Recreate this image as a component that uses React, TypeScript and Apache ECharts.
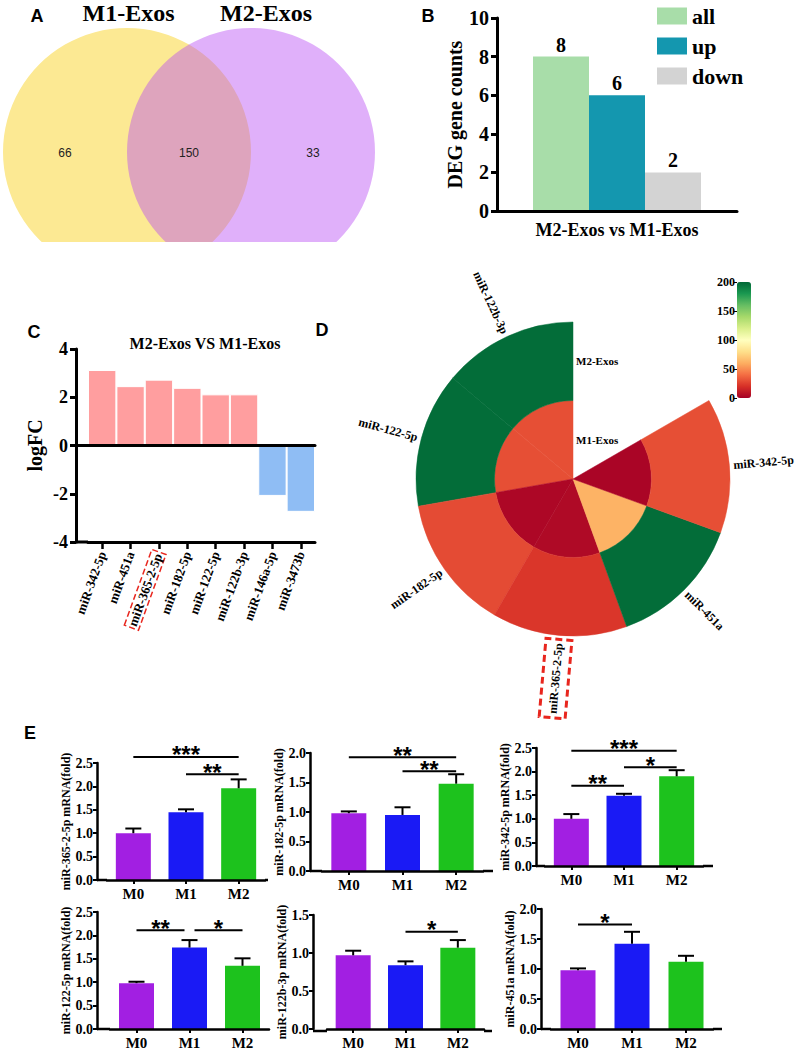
import React, { useEffect, useRef } from "react";
import * as echarts from "echarts";

const SERIF = "'Liberation Serif', 'Times New Roman', serif";
const SANS = "'Liberation Sans', Arial, sans-serif";

// ---------- Panel A : Venn ----------
const vennSets = ["M1-Exos", "M2-Exos"];
const vennCounts = [66, 150, 33]; // M1 only, shared, M2 only

// ---------- Panel B : DEG counts ----------
const degComparison = ["M2-Exos vs M1-Exos"];
const degNames = ["all", "up", "down"];
const degCounts = [8, 6, 2];

// ---------- Panel C : logFC ----------
const fcMirnas = ["miR-342-5p", "miR-451a", "miR-365-2-5p", "miR-182-5p", "miR-122-5p", "miR-122b-3p", "miR-146a-5p", "miR-3473b"];
const fcValues = [3.13, 2.46, 2.73, 2.39, 2.12, 2.12, -2.09, -2.75];
const fcHighlight = "miR-365-2-5p";

// ---------- Panel D : circular heatmap ----------
const ringMirnas = ["miR-122b-3p", "miR-122-5p", "miR-182-5p", "miR-365-2-5p", "miR-451a", "miR-342-5p"];
const ringGroups = ["M1-Exos", "M2-Exos"];
const m1Expression = [30, 30, 3, 4, 62, 2];
const m2Expression = [198, 198, 29, 22, 198, 30];
const exprRange = [0, 200];

// ---------- Panel E : qPCR ----------
const qpcrGroups = ["M0", "M1", "M2"];
const qpcrGenes = ["miR-365-2-5p", "miR-182-5p", "miR-342-5p", "miR-122-5p", "miR-122b-3p", "miR-451a"];
const qpcrMeans = [
  [1.0, 1.45, 1.96],
  [0.98, 0.95, 1.48],
  [1.0, 1.49, 1.9],
  [0.98, 1.74, 1.35],
  [0.97, 0.84, 1.07],
  [0.98, 1.42, 1.12],
];
const qpcrSems = [
  [0.1, 0.06, 0.19],
  [0.03, 0.13, 0.16],
  [0.1, 0.04, 0.13],
  [0.03, 0.16, 0.16],
  [0.06, 0.05, 0.1],
  [0.03, 0.2, 0.1],
];
const qpcrAxisMax = [2.5, 2.0, 2.5, 2.5, 1.5, 2.0];
// [from group, to group, height (fold), stars]
const qpcrBrackets: [number, number, number, string][][] = [
  [[0, 2, 2.63, "***"], [1, 2, 2.26, "**"]],
  [[0, 2, 1.93, "**"], [1, 2, 1.69, "**"]],
  [[0, 2, 2.44, "***"], [1, 2, 2.09, "*"], [0, 1, 1.7, "**"]],
  [[0, 1, 2.11, "**"], [1, 2, 2.11, "*"]],
  [[1, 2, 1.28, "*"]],
  [[0, 1, 1.74, "*"]],
];

// ---------- styles / layout ----------
const DEG_COLORS = ["#A8DDA9", "#1497AF", "#D3D3D3"];
const FC_UP = "#FF9E9F";
const FC_DOWN = "#8FBDF4";
const GROUP_COLORS = ["#A21FE2", "#1A1AF5", "#1DC21D"];
const RDYLGN = ["#a50026", "#d73027", "#f46d43", "#fdae61", "#fee08b", "#ffffbf", "#d9ef8b", "#a6d96a", "#66bd63", "#1a9850", "#006837"];
const RED = "#E8261E";

const E_LAYOUT = [
  { axisX: 97, left: 107, width: 158, top: 763, height: 117, end: 268 },
  { axisX: 310, left: 322, width: 161, top: 753, height: 118, end: 493 },
  { axisX: 536, left: 545, width: 158, top: 748, height: 118, end: 713 },
  { axisX: 97, left: 110, width: 159, top: 912, height: 117, end: 269 },
  { axisX: 313, left: 327, width: 157, top: 915, height: 116, end: 492 },
  { axisX: 541, left: 551, width: 162, top: 909, height: 120, end: 722 },
];

function txt(text: string, x: number, y: number, size: number, o: any = {}) {
  const align = o.align || "center";
  return {
    type: "text",
    x,
    y,
    silent: true,
    rotation: o.rotation || 0,
    style: {
      text,
      fontSize: size,
      fontFamily: o.family || SERIF,
      fontWeight: o.weight || "bold",
      fill: o.fill || "#000",
      align,
      textAlign: align,
      verticalAlign: "middle",
      textVerticalAlign: "middle",
    },
  };
}

function hline(x1: number, x2: number, y: number, w: number) {
  return { type: "line", silent: true, shape: { x1, y1: y, x2, y2: y }, style: { stroke: "#000", lineWidth: w } };
}

function buildOption() {
  const grids: any[] = [];
  const xAxes: any[] = [];
  const yAxes: any[] = [];
  const series: any[] = [];
  const graphics: any[] = [];

  // ===== Panel A =====
  const vennR = 124;
  const vennCy = 152;
  const vennCx = [127, 251];
  graphics.push({ type: "circle", silent: true, shape: { cx: vennCx[0], cy: vennCy, r: vennR }, style: { fill: "#FCE993" } });
  graphics.push({ type: "circle", silent: true, shape: { cx: vennCx[1], cy: vennCy, r: vennR }, style: { fill: "rgba(185,75,244,0.44)" } });
  // the panel is cropped just below the circles' lower part
  graphics.push({ type: "rect", silent: true, shape: { x: 0, y: 242, width: 390, height: 50 }, style: { fill: "#fff" } });
  const countX = [
    (vennCx[0] - vennR + vennCx[1] - vennR) / 2,
    (vennCx[0] + vennCx[1]) / 2,
    (vennCx[0] + vennR + vennCx[1] + vennR) / 2,
  ];
  vennCounts.forEach((c, i) => graphics.push(txt(String(c), countX[i], vennCy + 1, 12, { family: SANS, weight: "normal", fill: "#222" })));
  const vennTitleX = [128.5, 266];
  vennSets.forEach((s, i) => graphics.push(txt(s, vennTitleX[i], 13, 24)));

  // panel letters
  const letters: [string, number, number][] = [["A", 37, 16], ["B", 428, 16], ["C", 34, 332], ["D", 322, 330], ["E", 30, 733]];
  letters.forEach(([l, x, y]) => graphics.push(txt(l, x, y, 18, { family: SANS })));

  // ===== Panel B =====
  grids.push({ left: 497, top: 18, width: 240, height: 193 });
  xAxes.push({
    gridIndex: 0,
    type: "category",
    data: degComparison,
    z: 5,
    axisLine: { lineStyle: { color: "#000", width: 3 } },
    axisTick: { show: false },
    axisLabel: { fontFamily: SERIF, fontWeight: "bold", fontSize: 18, color: "#000", margin: 10 },
  });
  yAxes.push({
    gridIndex: 0,
    type: "value",
    min: 0,
    max: 10,
    interval: 2,
    z: 5,
    axisLine: { show: true, lineStyle: { color: "#000", width: 3 } },
    axisTick: { show: true, length: 6, lineStyle: { color: "#000", width: 3 } },
    axisLabel: { fontFamily: SERIF, fontWeight: "bold", fontSize: 20, color: "#000", margin: 8 },
    splitLine: { show: false },
    name: "DEG gene counts",
    nameLocation: "middle",
    nameGap: 32,
    nameTextStyle: { fontFamily: SERIF, fontWeight: "bold", fontSize: 20, color: "#000" },
  });
  degNames.forEach((n, i) =>
    series.push({
      type: "bar",
      name: n,
      xAxisIndex: 0,
      yAxisIndex: 0,
      data: [degCounts[i]],
      barWidth: 56,
      barGap: "0%",
      itemStyle: { color: DEG_COLORS[i] },
      label: { show: true, position: "top", distance: 2, fontFamily: SERIF, fontWeight: "bold", fontSize: 20, color: "#000" },
    })
  );

  // ===== Panel C =====
  const cGrid = { left: 88, top: 349, width: 227, height: 193 };
  const cAxisX = 76;
  grids.push(cGrid);
  xAxes.push({
    gridIndex: 1,
    type: "category",
    data: fcMirnas,
    position: "bottom",
    z: 5,
    axisLine: { onZero: false, lineStyle: { color: "#000", width: 3 } },
    axisTick: { show: true, alignWithLabel: true, length: 7, lineStyle: { color: "#000", width: 2.5 } },
    axisLabel: {
      rotate: 70,
      margin: 10,
      fontFamily: SERIF,
      fontWeight: "bold",
      fontSize: 13,
      color: "#000",
      formatter: (v: string) => (v === fcHighlight ? `{box|${v}}` : v),
      rich: {
        box: {
          fontFamily: SERIF,
          fontWeight: "bold",
          fontSize: 13,
          color: "#000",
          borderColor: RED,
          borderWidth: 1.5,
          borderType: "dashed",
          padding: [1, 2],
        },
      },
    },
  });
  xAxes.push({
    gridIndex: 1,
    type: "category",
    data: fcMirnas,
    position: "top",
    z: 5,
    axisLine: { onZero: true, lineStyle: { color: "#000", width: 3 } },
    axisTick: { show: false },
    axisLabel: { show: false },
  });
  yAxes.push({
    gridIndex: 1,
    type: "value",
    min: -4,
    max: 4,
    interval: 2,
    offset: cGrid.left - cAxisX,
    z: 5,
    axisLine: { show: true, onZero: false, lineStyle: { color: "#000", width: 3 } },
    axisTick: { show: true, length: 6, lineStyle: { color: "#000", width: 3 } },
    axisLabel: { fontFamily: SERIF, fontWeight: "bold", fontSize: 18, color: "#000", margin: 8 },
    splitLine: { show: false },
    name: "logFC",
    nameLocation: "middle",
    nameGap: 31,
    nameTextStyle: { fontFamily: SERIF, fontWeight: "bold", fontSize: 20, color: "#000" },
  });
  series.push({
    type: "bar",
    name: "logFC",
    xAxisIndex: 1,
    yAxisIndex: 1,
    data: fcValues,
    barCategoryGap: "0%",
    itemStyle: {
      color: (p: any) => (p.value >= 0 ? FC_UP : FC_DOWN),
      borderColor: "#fff",
      borderWidth: 1,
    },
  });
  const cZeroY = cGrid.top + cGrid.height / 2;
  graphics.push(hline(cAxisX, cGrid.left, cZeroY, 3));
  graphics.push(hline(cAxisX, cGrid.left, cGrid.top + cGrid.height, 3));
  graphics.push(txt("M2-Exos VS M1-Exos", 205, 343, 16));

  // ===== Panel D =====
  const SPAN = 50;
  const ringData: number[][] = [];
  ringMirnas.forEach((_, si) => {
    ringData.push([si, 0, m1Expression[si]]);
    ringData.push([si, 1, m2Expression[si]]);
  });
  const dSeriesIndex = series.length;
  series.push({
    type: "custom",
    name: "expression",
    coordinateSystem: "polar",
    polarIndex: 0,
    data: ringData,
    encode: { angle: 0, radius: 1 },
    renderItem: (params: any, api: any) => {
      const si = api.value(0);
      const ri = api.value(1);
      const cs = params.coordSys;
      const cx = cs.cx;
      const cy = cs.cy;
      const pA = api.coord([ri + 1, si * SPAN]);
      const pB = api.coord([ri + 1, (si + 1) * SPAN]);
      const pIn = api.coord([ri, si * SPAN]);
      const r = Math.hypot(pA[0] - cx, pA[1] - cy);
      const r0 = Math.hypot(pIn[0] - cx, pIn[1] - cy);
      const a0 = Math.atan2(pA[1] - cy, pA[0] - cx);
      let a1 = Math.atan2(pB[1] - cy, pB[0] - cx);
      if (a1 > a0) a1 -= Math.PI * 2;
      const color = api.visual("color");
      const children: any[] = [
        {
          type: "sector",
          shape: { cx, cy, r0, r, startAngle: a0, endAngle: a1, clockwise: false },
          style: { fill: color, stroke: color, lineWidth: 0.5 },
        },
      ];
      if (si === 0) {
        const pm = api.coord([ri + 0.5, 0]);
        children.push({
          type: "text",
          x: pm[0] + 3,
          y: pm[1],
          style: {
            text: ringGroups[ri],
            fontFamily: SERIF,
            fontWeight: "bold",
            fontSize: 11,
            fill: "#000",
            align: "left",
            textAlign: "left",
            verticalAlign: "middle",
            textVerticalAlign: "middle",
          },
        });
      }
      if (ri === 1) {
        const pm = api.coord([2, (si + 0.5) * SPAN]);
        const th = Math.atan2(-(pm[1] - cy), pm[0] - cx);
        const R = r + 4;
        const x = cx + R * Math.cos(th);
        const y = cy - R * Math.sin(th);
        const right = Math.cos(th) >= 0;
        const name = ringMirnas[si];
        const hl = name === fcHighlight;
        const align = right ? "left" : "right";
        children.push({
          type: "text",
          x,
          y,
          rotation: right ? th : th - Math.PI,
          style: {
            text: hl ? `{b|${name}}` : name,
            fontFamily: SERIF,
            fontWeight: "bold",
            fontSize: 12,
            fill: "#000",
            align,
            textAlign: align,
            verticalAlign: "middle",
            textVerticalAlign: "middle",
            rich: hl
              ? {
                  b: {
                    fontFamily: SERIF,
                    fontWeight: "bold",
                    fontSize: 12,
                    fill: "#000",
                    borderColor: RED,
                    borderWidth: 3,
                    borderDash: [7, 4],
                    padding: [7, 4],
                  },
                }
              : undefined,
          },
        });
      }
      return { type: "group", children };
    },
  });

  // colorbar tick axis
  const cbGridIndex = 8;

  // ===== Panel E =====
  E_LAYOUT.forEach((L, k) => {
    const gi = grids.length;
    grids.push({ left: L.left, top: L.top, width: L.width, height: L.height });
    const xi = xAxes.length;
    const yi = yAxes.length;
    xAxes.push({
      gridIndex: gi,
      type: "category",
      data: qpcrGroups,
      z: 5,
      axisLine: { lineStyle: { color: "#000", width: 2.5 } },
      axisTick: { show: true, alignWithLabel: true, length: 4, lineStyle: { color: "#000", width: 2 } },
      axisLabel: { fontFamily: SERIF, fontWeight: "bold", fontSize: 15, color: "#000", margin: 6 },
    });
    yAxes.push({
      gridIndex: gi,
      type: "value",
      min: 0,
      max: qpcrAxisMax[k],
      interval: 0.5,
      offset: L.left - L.axisX,
      z: 5,
      axisLine: { show: true, lineStyle: { color: "#000", width: 2.5 } },
      axisTick: { show: true, length: 4, lineStyle: { color: "#000", width: 2 } },
      axisLabel: { fontFamily: SERIF, fontWeight: "bold", fontSize: 14, color: "#000", margin: 4, formatter: (v: number) => v.toFixed(1) },
      splitLine: { show: false },
      name: `${qpcrGenes[k]} mRNA(fold)`,
      nameLocation: "middle",
      nameGap: 24,
      nameTextStyle: { fontFamily: SERIF, fontWeight: "bold", fontSize: 12, color: "#000" },
    });
    series.push({
      type: "bar",
      name: qpcrGenes[k],
      xAxisIndex: xi,
      yAxisIndex: yi,
      barWidth: 35,
      data: qpcrMeans[k].map((v, i) => ({ value: v, itemStyle: { color: GROUP_COLORS[i] } })),
    });
    series.push({
      type: "custom",
      name: qpcrGenes[k] + " sem",
      xAxisIndex: xi,
      yAxisIndex: yi,
      z: 4,
      encode: { x: 0, y: 1 },
      data: qpcrMeans[k].map((m, i) => [i, m, qpcrSems[k][i]]),
      renderItem: (params: any, api: any) => {
        const x = api.value(0);
        const m = api.value(1);
        const s = api.value(2);
        const p0 = api.coord([x, m]);
        const p1 = api.coord([x, m + s]);
        const cap = 8;
        return {
          type: "group",
          children: [
            { type: "line", shape: { x1: p0[0], y1: p0[1], x2: p1[0], y2: p1[1] }, style: { stroke: "#000", lineWidth: 2 } },
            { type: "line", shape: { x1: p1[0] - cap, y1: p1[1], x2: p1[0] + cap, y2: p1[1] }, style: { stroke: "#000", lineWidth: 2 } },
          ],
        };
      },
    });
    const list = qpcrBrackets[k];
    series.push({
      type: "custom",
      name: qpcrGenes[k] + " sig",
      xAxisIndex: xi,
      yAxisIndex: yi,
      z: 4,
      clip: false,
      encode: { x: [0, 1], y: 2 },
      data: list.map((b) => [b[0], b[1], b[2]]),
      renderItem: (params: any, api: any) => {
        const b = list[params.dataIndex];
        const pa = api.coord([b[0], b[2]]);
        const pb = api.coord([b[1], b[2]]);
        const insetL = list.some((o) => o !== b && o[2] === b[2] && o[1] === b[0]) ? 5 : 0;
        const insetR = list.some((o) => o !== b && o[2] === b[2] && o[0] === b[1]) ? 5 : 0;
        const x1 = pa[0] + insetL;
        const x2 = pb[0] - insetR;
        const y = pa[1];
        return {
          type: "group",
          children: [
            { type: "line", shape: { x1, y1: y, x2, y2: y }, style: { stroke: "#000", lineWidth: 2 } },
            {
              type: "text",
              x: (x1 + x2) / 2,
              y: y - 2,
              style: {
                text: b[3],
                fontFamily: SANS,
                fontWeight: "bold",
                fontSize: 24,
                fill: "#000",
                align: "center",
                textAlign: "center",
                verticalAlign: "middle",
                textVerticalAlign: "middle",
              },
            },
          ],
        };
      },
    });
    const by = L.top + L.height;
    graphics.push(hline(L.axisX, L.left, by, 2.5));
    graphics.push(hline(L.left + L.width, L.end, by, 2.5));
  });

  // colorbar ticks grid (index 8)
  grids.push({ left: 737, top: 282, width: 14, height: 116 });
  const cbx = xAxes.length;
  const cby = yAxes.length;
  xAxes.push({ gridIndex: cbGridIndex, type: "value", min: 0, max: 1, show: false });
  yAxes.push({
    gridIndex: cbGridIndex,
    type: "value",
    min: exprRange[0],
    max: exprRange[1],
    interval: 50,
    axisLine: { show: false },
    axisTick: { show: true, length: 3, lineStyle: { color: "#000", width: 1 } },
    axisLabel: { fontFamily: SERIF, fontWeight: "bold", fontSize: 12, color: "#000", margin: 2 },
    splitLine: { show: false },
  });
  series.push({ type: "line", name: "cb", xAxisIndex: cbx, yAxisIndex: cby, data: [], silent: true });

  return {
    animation: false,
    backgroundColor: "#fff",
    grid: grids,
    xAxis: xAxes,
    yAxis: yAxes,
    polar: { center: [573, 479], radius: [0, 157] },
    angleAxis: { type: "value", min: 0, max: 360, startAngle: 90, clockwise: false, show: false },
    radiusAxis: { type: "value", min: 0, max: 2, show: false },
    visualMap: {
      type: "continuous",
      min: exprRange[0],
      max: exprRange[1],
      seriesIndex: dSeriesIndex,
      dimension: 2,
      inRange: { color: RDYLGN },
      orient: "vertical",
      left: 737,
      top: 282,
      itemWidth: 14,
      itemHeight: 116,
      padding: 0,
      calculable: false,
      hoverLink: false,
    },
    legend: {
      data: degNames,
      orient: "vertical",
      left: 657,
      top: 5,
      padding: 0,
      itemWidth: 30,
      itemHeight: 17,
      itemGap: 8,
      icon: "rect",
      selectedMode: false,
      textStyle: { fontFamily: SERIF, fontWeight: "bold", fontSize: 22, color: "#000", lineHeight: 17 },
    },
    graphic: { elements: graphics },
    series,
  };
}

export default function App() {
  const ref = useRef<HTMLDivElement>(null);
  useEffect(() => {
    const chart = echarts.init(ref.current!, undefined, { renderer: "svg" });
    chart.setOption(buildOption() as any);
    return () => chart.dispose();
  }, []);
  return (
    <div
      ref={ref}
      style={{ position: "absolute", left: 0, top: 0, width: 800, height: 1050, background: "#fff" }}
    />
  );
}
